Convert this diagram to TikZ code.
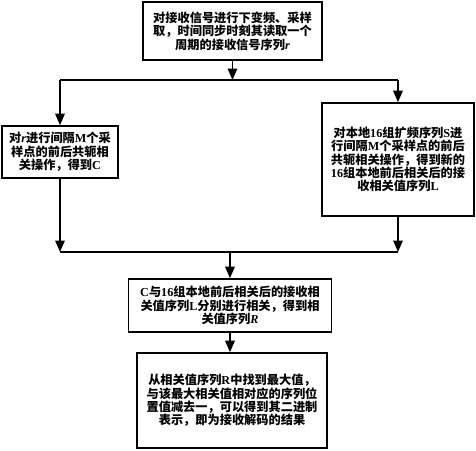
\documentclass[tikz,border=0pt]{standalone}
\usepackage{fontspec}
\setmainfont{Noto Sans CJK SC}
\newfontfamily\lat{Liberation Serif}
\usetikzlibrary{arrows.meta}
\newcommand\La[1]{{\lat\bfseries #1}}
\newcommand\Li[1]{{\lat\bfseries\itshape #1}}
\begin{document}
\begin{tikzpicture}[x=1pt,y=-1pt,
  line width=1.6pt,
  box/.style={draw, line width=1.6pt, rectangle, inner sep=0pt, align=center,
    font=\fontsize{12.2}{13.4}\selectfont\bfseries},
  arr/.style={-{Triangle[width=9.5pt,length=11.5pt]}}]
\useasboundingbox (0,0) rectangle (476,450);
\node[box, minimum width=179pt, minimum height=58pt] (top) at (232.5,31)
  {对接收信号进行下变频、采样\\取，时间同步时刻其读取一个\\周期的接收信号序列\Li{r}};
\node[box, minimum width=116pt, minimum height=52pt] (left) at (60,152)
  {对\Li{r}进行间隔\La{M}个采\\样点的前后共轭相\\关操作，得到\La{C}};
\node[box, minimum width=152pt, minimum height=113pt] (right) at (398,159.5)
  {对本地\La{16}组扩频序列\La{S}进\\行间隔\La{M}个采样点的前后\\共轭相关操作，得到新的\\\La{16}组本地前后相关后的接\\收相关值序列\La{L}};
\node[box, minimum width=203pt, minimum height=53pt] (mid) at (230,305.5)
  {\La{C}与\La{16}组本地前后相关后的接收相\\关值序列\La{L}分别进行相关，得到相\\关值序列\Li{R}};
\node[box, minimum width=190pt, minimum height=95pt] (bot) at (232,400.5)
  {从相关值序列\La{R}中找到最大值，\\与该最大相关值相对应的序列位\\置值减去一，可以得到其二进制\\表示，即为接收解码的结果};
\coordinate (jt) at (232.5,80);
\coordinate (jl) at (60,80);
\coordinate (jr) at (398,80);
\coordinate (bl) at (60,252);
\coordinate (br) at (398,252);
\coordinate (bm) at (230,252);
\draw[arr] (top) -- (jt);
\draw (jl) -- (jr);
\draw[arr] (jl) -- (left);
\draw[arr] (jr) -- (right);
\draw[arr] (left) -- (bl);
\draw[arr] (right) -- (br);
\draw (bl) -- (br);
\draw[arr] (bm) -- (mid);
\draw[arr] (mid) -- (bot.north -| mid);
\end{tikzpicture}
\end{document}
